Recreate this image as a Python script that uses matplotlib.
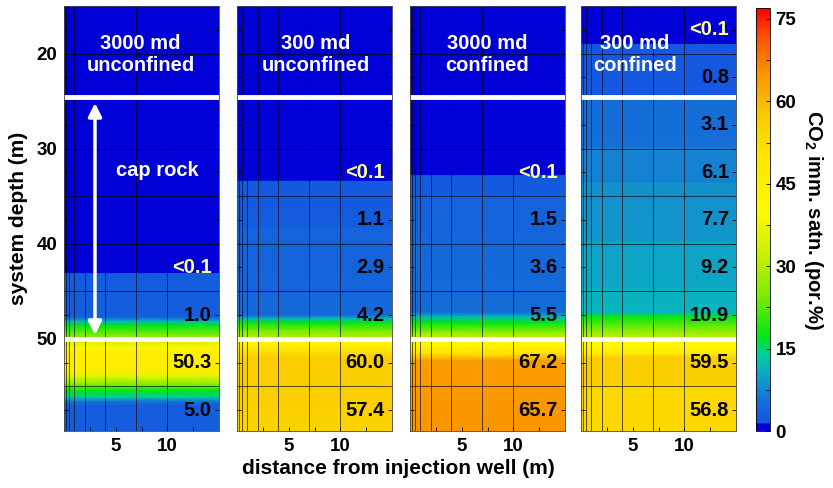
import numpy as np
import matplotlib.pyplot as plt
from matplotlib.colors import LinearSegmentedColormap
from matplotlib.ticker import FixedLocator, MultipleLocator

plt.rcParams['font.family'] = ['Liberation Sans', 'DejaVu Sans']
plt.rcParams['font.weight'] = 'bold'
plt.rcParams['axes.labelweight'] = 'bold'
plt.rcParams['mathtext.fontset'] = 'custom'
plt.rcParams['mathtext.bf'] = 'Liberation Sans:bold'
plt.rcParams['mathtext.rm'] = 'Liberation Sans:bold'
plt.rcParams['mathtext.default'] = 'bf'

# colour scale of the figure (value -> colour)
cmap_vals = [0, 1.0, 1.5, 5, 8, 11, 14, 17, 25, 32, 40, 50, 57, 65, 72, 77]
cmap_cols = ['#0000d7', '#0000d7', '#1455e1', '#146ed7', '#148ccd', '#0aafc3',
             '#00d296', '#00e614', '#82eb00', '#c8f000', '#fffa00', '#ffe600',
             '#facd00', '#fa9600', '#fa5000', '#fa0000']
VMAX = 77.0

titles = ['3000 md\nunconfined', '300 md\nunconfined', '3000 md\nconfined', '300 md\nconfined']
title_x = [7.4, 7.6, 7.5, 5.2]

# depth (m) profiles of the immobile saturation
depth = [
    [15, 43.1, 43.15, 47.7, 48.2, 48.6, 49.9, 50.0, 51.0, 51.5, 53.3, 54.0, 54.8, 55.5, 56.1, 56.6, 57.0, 59.7],
    [15, 33.4, 33.45, 38.3, 38.35, 45.0, 45.05, 47.5, 47.9, 48.3, 49.2, 49.9, 50.0, 51.0, 51.7, 52.2, 55.0, 59.7],
    [15, 32.8, 32.85, 35.0, 35.05, 40.0, 40.05, 47.2, 47.7, 48.3, 49.3, 49.9, 50.0, 51.0, 51.6, 52.3, 59.7],
    [15, 19.0, 19.05, 24.5, 24.6, 29.9, 29.95, 33.6, 33.65, 39.7, 39.75, 44.6, 44.65, 47.3, 47.6, 48.5,
     49.9, 50.0, 51.5, 52.0, 54.7, 55.0, 59.7],
]
sat = [
    [0, 0, 2.5, 2.8, 12, 17, 28, 33, 42, 46, 46, 35, 25, 17, 14, 6, 2.8, 2.8],
    [0, 0, 2.2, 2.5, 3.5, 3.8, 4.3, 4.5, 12, 17, 25, 30, 40, 48, 55, 57, 57, 55],
    [0, 0, 2.3, 2.5, 3.5, 3.8, 4.5, 4.8, 12, 17, 26, 32, 40, 45, 52, 64, 65],
    [0, 0, 2.0, 2.3, 5.0, 5.2, 7.0, 7.2, 8.5, 8.8, 10.0, 10.3, 11.2, 11.5, 17, 22,
     32, 40, 46, 57, 57, 54, 54],
]

# layer averages written on the panels
label_depth = [
    [42.5, 47.5, 52.5, 57.5],
    [32.5, 37.5, 42.5, 47.5, 52.5, 57.5],
    [32.5, 37.5, 42.5, 47.5, 52.5, 57.5],
    [17.5, 22.5, 27.5, 32.5, 37.5, 42.5, 47.5, 52.5, 57.5],
]
label_text = [
    ['<0.1', '1.0', '50.3', '5.0'],
    ['<0.1', '1.1', '2.9', '4.2', '60.0', '57.4'],
    ['<0.1', '1.5', '3.6', '5.5', '67.2', '65.7'],
    ['<0.1', '0.8', '3.1', '6.1', '7.7', '9.2', '10.9', '59.5', '56.8'],
]

# model grid lines
x_lines = [0.2, 0.5, 1, 2, 4, 7, 10]
z_lines = [20, 30, 35, 40, 45, 55]

cmap = LinearSegmentedColormap.from_list(
    'satn', [(v / VMAX, c) for v, c in zip(cmap_vals, cmap_cols)])

W, H = 833, 488
fig = plt.figure(figsize=(W / 100, H / 100), dpi=100)
lefts = [64, 237, 410, 581]

for i in range(4):
    ax = fig.add_axes([lefts[i] / W, 57 / H, 155 / W, 425 / H])
    X, Y = np.meshgrid([0, 15], depth[i])
    C = np.column_stack([sat[i], sat[i]])
    m = ax.pcolormesh(X, Y, C, cmap=cmap, vmin=0, vmax=VMAX, shading='gouraud')
    ax.set_xlim(0, 15)
    ax.set_ylim(59.7, 15)
    for xv in x_lines:
        ax.axvline(xv, color='k', lw=0.6, alpha=0.75)
    for zv in z_lines:
        ax.axhline(zv, color='k', lw=0.6, alpha=0.75)
    ax.axhline(24.6, color='white', lw=3.5)
    ax.axhline(50.0, color='white', lw=3.5)
    for sp in ax.spines.values():
        sp.set_linewidth(0.6)
        sp.set_color('#444444')

    ax.xaxis.set_major_locator(FixedLocator([5, 10]))
    ax.xaxis.set_minor_locator(FixedLocator([2.5, 7.5, 12.5]))
    ax.yaxis.set_major_locator(FixedLocator([20, 30, 40, 50]))
    ax.yaxis.set_minor_locator(FixedLocator([17.5, 22.5, 27.5, 32.5, 37.5, 42.5, 47.5, 52.5, 57.5]))
    ax.tick_params(which='both', direction='in', length=3, width=0.6, right=True,
                   labelsize=13.5, pad=5)
    if i > 0:
        ax.tick_params(labelleft=False)

    ax.text(title_x[i], 20.1, titles[i], color='white', fontsize=14.5,
            ha='center', va='center', linespacing=1.15)
    for d, s in zip(label_depth[i], label_text[i]):
        col = '#ffff99' if s.startswith('<') else 'black'
        ax.text(14.3, d, s, color=col, fontsize=14.5, ha='right', va='center')

    if i == 0:
        ax.set_ylabel('system depth (m)', fontsize=15, fontweight='bold', labelpad=6)
        ax.annotate('', xy=(3.0, 25.2), xytext=(3.0, 49.6),
                    arrowprops=dict(arrowstyle='<|-|>', color='white', lw=2.5,
                                    mutation_scale=20, shrinkA=0, shrinkB=0))
        ax.text(9.0, 32.3, 'cap rock', color='white', fontsize=14.5,
                ha='center', va='center')

fig.text(398 / W, 1 - 468 / H, 'distance from injection well (m)',
         fontsize=15, fontweight='bold', ha='center', va='center')

cax = fig.add_axes([756 / W, 57 / H, 14 / W, 423 / H])
cb = fig.colorbar(m, cax=cax, ticks=[0, 15, 30, 45, 60, 75])
cb.ax.yaxis.set_minor_locator(MultipleLocator(7.5))
cb.ax.tick_params(which='both', direction='in', length=3, width=0.6, labelsize=13.5, pad=4)
cb.outline.set_linewidth(0.6)
cb.set_label('CO$_2$ imm. satn. (por.%)', rotation=270, fontsize=14.5,
             fontweight='bold', labelpad=21)

fig.savefig('out.png', dpi=100)
